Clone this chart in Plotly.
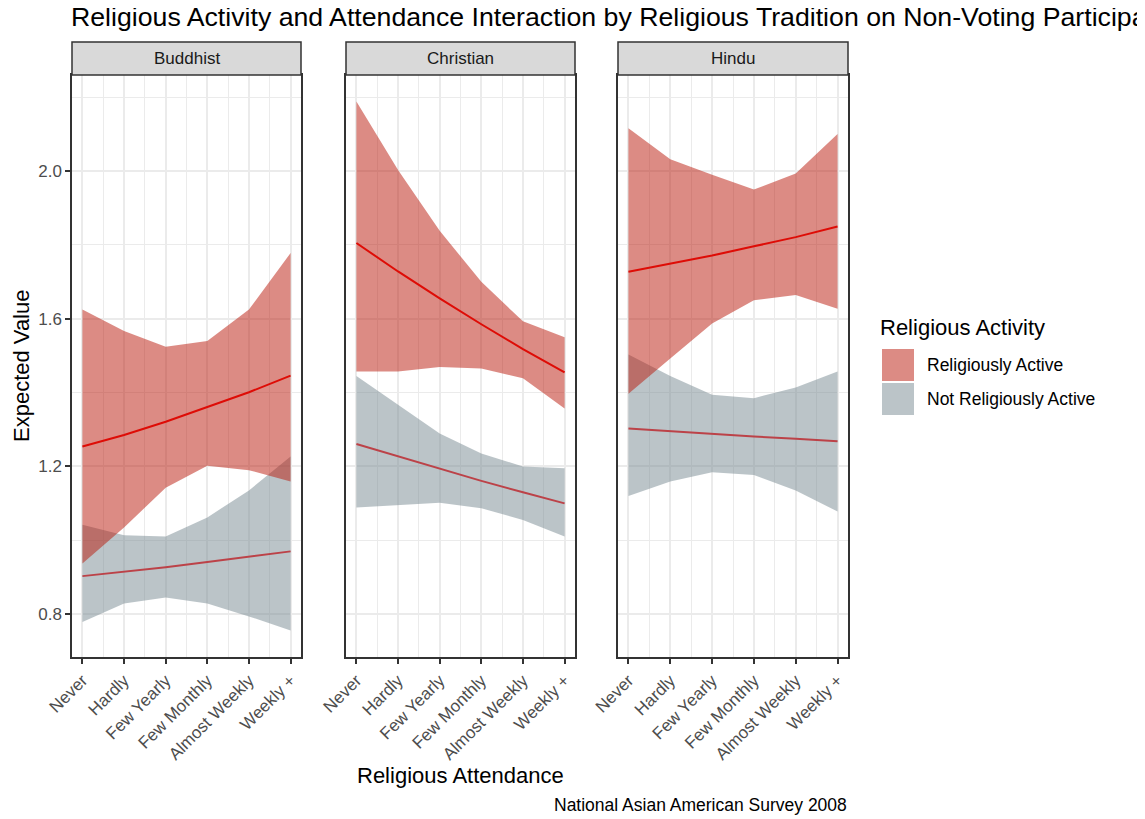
import plotly.graph_objects as go

# x categories (religious attendance) and facet names
attendance = ['Never', 'Hardly', 'Few Yearly', 'Few Monthly', 'Almost Weekly', 'Weekly +']
att_pos = [1, 2, 3, 4, 5, 6]
traditions = ['Buddhist', 'Christian', 'Hindu']

# Religiously Active: expected value and interval
buddhist_active_mean = [1.254, 1.285, 1.321, 1.360, 1.401, 1.446]
buddhist_active_lo = [0.937, 1.035, 1.142, 1.202, 1.190, 1.159]
buddhist_active_hi = [1.625, 1.567, 1.524, 1.540, 1.625, 1.778]
christian_active_mean = [1.805, 1.728, 1.655, 1.585, 1.518, 1.455]
christian_active_lo = [1.457, 1.457, 1.469, 1.465, 1.439, 1.357]
christian_active_hi = [2.188, 2.003, 1.838, 1.700, 1.593, 1.550]
hindu_active_mean = [1.727, 1.748, 1.771, 1.796, 1.821, 1.850]
hindu_active_lo = [1.397, 1.492, 1.587, 1.650, 1.664, 1.627]
hindu_active_hi = [2.116, 2.032, 1.990, 1.950, 1.993, 2.100]

# Not Religiously Active
buddhist_not_mean = [0.903, 0.914, 0.927, 0.941, 0.955, 0.970]
buddhist_not_lo = [0.779, 0.829, 0.845, 0.829, 0.794, 0.756]
buddhist_not_hi = [1.042, 1.014, 1.010, 1.062, 1.135, 1.227]
christian_not_mean = [1.261, 1.227, 1.194, 1.161, 1.130, 1.100]
christian_not_lo = [1.089, 1.095, 1.102, 1.087, 1.055, 1.010]
christian_not_hi = [1.445, 1.367, 1.289, 1.235, 1.200, 1.195]
hindu_not_mean = [1.303, 1.295, 1.288, 1.281, 1.275, 1.268]
hindu_not_lo = [1.120, 1.159, 1.184, 1.177, 1.135, 1.078]
hindu_not_hi = [1.503, 1.445, 1.394, 1.385, 1.414, 1.457]

y_ticks = [0.8, 1.2, 1.6, 2.0]

FONT = 'Liberation Sans, Arial, Helvetica, sans-serif'
RED_FILL = 'rgba(185,23,9,0.5)'
GRAY_FILL = 'rgba(119,137,145,0.5)'
RED_LINE = 'rgb(222,12,6)'
GRAY_LINE = 'rgb(188,66,72)'

panels = [
    (buddhist_active_mean, buddhist_active_lo, buddhist_active_hi,
     buddhist_not_mean, buddhist_not_lo, buddhist_not_hi),
    (christian_active_mean, christian_active_lo, christian_active_hi,
     christian_not_mean, christian_not_lo, christian_not_hi),
    (hindu_active_mean, hindu_active_lo, hindu_active_hi,
     hindu_not_mean, hindu_not_lo, hindu_not_hi),
]

# page puts the plot 8px in from the top-left corner
OFF = 8
W, H = 1145, 819
ML, MT = 72 - OFF, 42 - OFF
MR = W - (848 - OFF)
MB = H - (657 - OFF)
PW = W - ML - MR
PH = H - MT - MB


def px_x(x):
    return (x - OFF - ML) / PW


def px_y(y):
    return (H - MB - (y - OFF)) / PH


domains = [[px_x(72), px_x(301)], [px_x(346), px_x(575)], [px_x(618), px_x(848)]]
panel_top = px_y(75)

fig = go.Figure()

for i, (am, alo, ahi, nm, nlo, nhi) in enumerate(panels):
    xa = 'x' if i == 0 else 'x%d' % (i + 1)
    ya = 'y' if i == 0 else 'y%d' % (i + 1)
    # ribbons: not active first, active on top
    fig.add_trace(go.Scatter(x=att_pos + att_pos[::-1], y=nhi + nlo[::-1],
                             fill='toself', fillcolor=GRAY_FILL, mode='lines',
                             line=dict(width=0), showlegend=False, hoverinfo='skip',
                             xaxis=xa, yaxis=ya))
    fig.add_trace(go.Scatter(x=att_pos + att_pos[::-1], y=ahi + alo[::-1],
                             fill='toself', fillcolor=RED_FILL, mode='lines',
                             line=dict(width=0), showlegend=False, hoverinfo='skip',
                             xaxis=xa, yaxis=ya))
    fig.add_trace(go.Scatter(x=att_pos, y=nm, mode='lines',
                             line=dict(color=GRAY_LINE, width=2),
                             name='Not Religiously Active', showlegend=False,
                             xaxis=xa, yaxis=ya))
    fig.add_trace(go.Scatter(x=att_pos, y=am, mode='lines',
                             line=dict(color=RED_LINE, width=2),
                             name='Religiously Active', showlegend=False,
                             xaxis=xa, yaxis=ya))

axis_common = dict(showline=True, mirror=True, linecolor='#333333', linewidth=1.5,
                   gridcolor='#EBEBEB', gridwidth=2, zeroline=False,
                   ticks='outside', ticklen=5, tickcolor='#333333', tickwidth=1.5,
                   tickfont=dict(size=17, color='#4D4D4D', family=FONT))

layout_axes = {}
for i in range(3):
    sfx = '' if i == 0 else str(i + 1)
    layout_axes['xaxis' + sfx] = dict(
        axis_common, domain=domains[i], range=[0.75, 6.25],
        tickmode='array', tickvals=att_pos, ticktext=attendance, tickangle=-45,
        anchor='y' + sfx,
        minor=dict(tick0=0.5, dtick=0.5, showgrid=True, gridcolor='#EBEBEB',
                   gridwidth=1, ticks=''))
    ydict = dict(
        axis_common, domain=[0, panel_top], range=[0.684, 2.260],
        tickmode='array', tickvals=y_ticks, ticktext=['%.1f' % v for v in y_ticks],
        anchor='x' + sfx,
        minor=dict(tick0=0.6, dtick=0.2, showgrid=True, gridcolor='#EBEBEB',
                   gridwidth=1, ticks=''))
    if i > 0:
        ydict.update(showticklabels=False, ticks='')
    layout_axes['yaxis' + sfx] = ydict

shapes = []
annotations = []
for i, name in enumerate(traditions):
    sfx = '' if i == 0 else str(i + 1)
    shapes.append(dict(type='rect', xref='x%s domain' % sfx, yref='paper',
                       x0=0, x1=1, y0=panel_top, y1=1,
                       fillcolor='#D9D9D9', line=dict(color='#333333', width=1.5)))
    annotations.append(dict(xref='x%s domain' % sfx, yref='paper', x=0.5,
                            y=(panel_top + 1) / 2, text=name, showarrow=False,
                            xanchor='center', yanchor='middle',
                            font=dict(size=17, color='#1A1A1A', family=FONT)))

# axis titles and caption
annotations.append(dict(xref='paper', yref='paper', x=px_x(21), y=px_y(366),
                        text='Expected Value', textangle=-90, showarrow=False,
                        xanchor='center', yanchor='middle',
                        font=dict(size=22, color='black', family=FONT)))
annotations.append(dict(xref='paper', yref='paper', x=px_x(460), y=px_y(775),
                        text='Religious Attendance', showarrow=False,
                        xanchor='center', yanchor='middle',
                        font=dict(size=22, color='black', family=FONT)))
annotations.append(dict(xref='paper', yref='paper', x=px_x(849), y=px_y(805),
                        text='National Asian American Survey 2008', showarrow=False,
                        xanchor='right', yanchor='middle',
                        font=dict(size=17.5, color='black', family=FONT)))

# legend drawn by hand (ggplot style keys)
annotations.append(dict(xref='paper', yref='paper', x=px_x(878), y=px_y(327),
                        text='Religious Activity', showarrow=False,
                        xanchor='left', yanchor='middle',
                        font=dict(size=22, color='black', family=FONT)))
legend_items = [('Religiously Active', RED_FILL, 349), ('Not Religiously Active', GRAY_FILL, 383)]
for label, col, top in legend_items:
    shapes.append(dict(type='rect', xref='paper', yref='paper',
                       x0=px_x(882), x1=px_x(914), y0=px_y(top + 32), y1=px_y(top),
                       fillcolor=col, line=dict(width=0)))
    annotations.append(dict(xref='paper', yref='paper', x=px_x(925), y=px_y(top + 16),
                            text=label, showarrow=False, xanchor='left', yanchor='middle',
                            font=dict(size=17.5, color='black', family=FONT)))

# the title runs past the right edge of the page, as in the original
fig.update_layout(
    width=W, height=H,
    margin=dict(l=ML, r=MR, t=MT, b=MB),
    plot_bgcolor='white', paper_bgcolor='white',
    font=dict(family=FONT),
    title=dict(text='Religious Activity and Attendance Interaction by Religious Tradition on Non-Voting Participation',
               xref='container', yref='container', x=(71 - OFF) / W, xanchor='left',
               y=1 - (17 - OFF) / H, yanchor='middle',
               font=dict(size=26.7, color='black', family=FONT)),
    shapes=shapes, annotations=annotations,
    **layout_axes)

fig.write_html('out.html')
